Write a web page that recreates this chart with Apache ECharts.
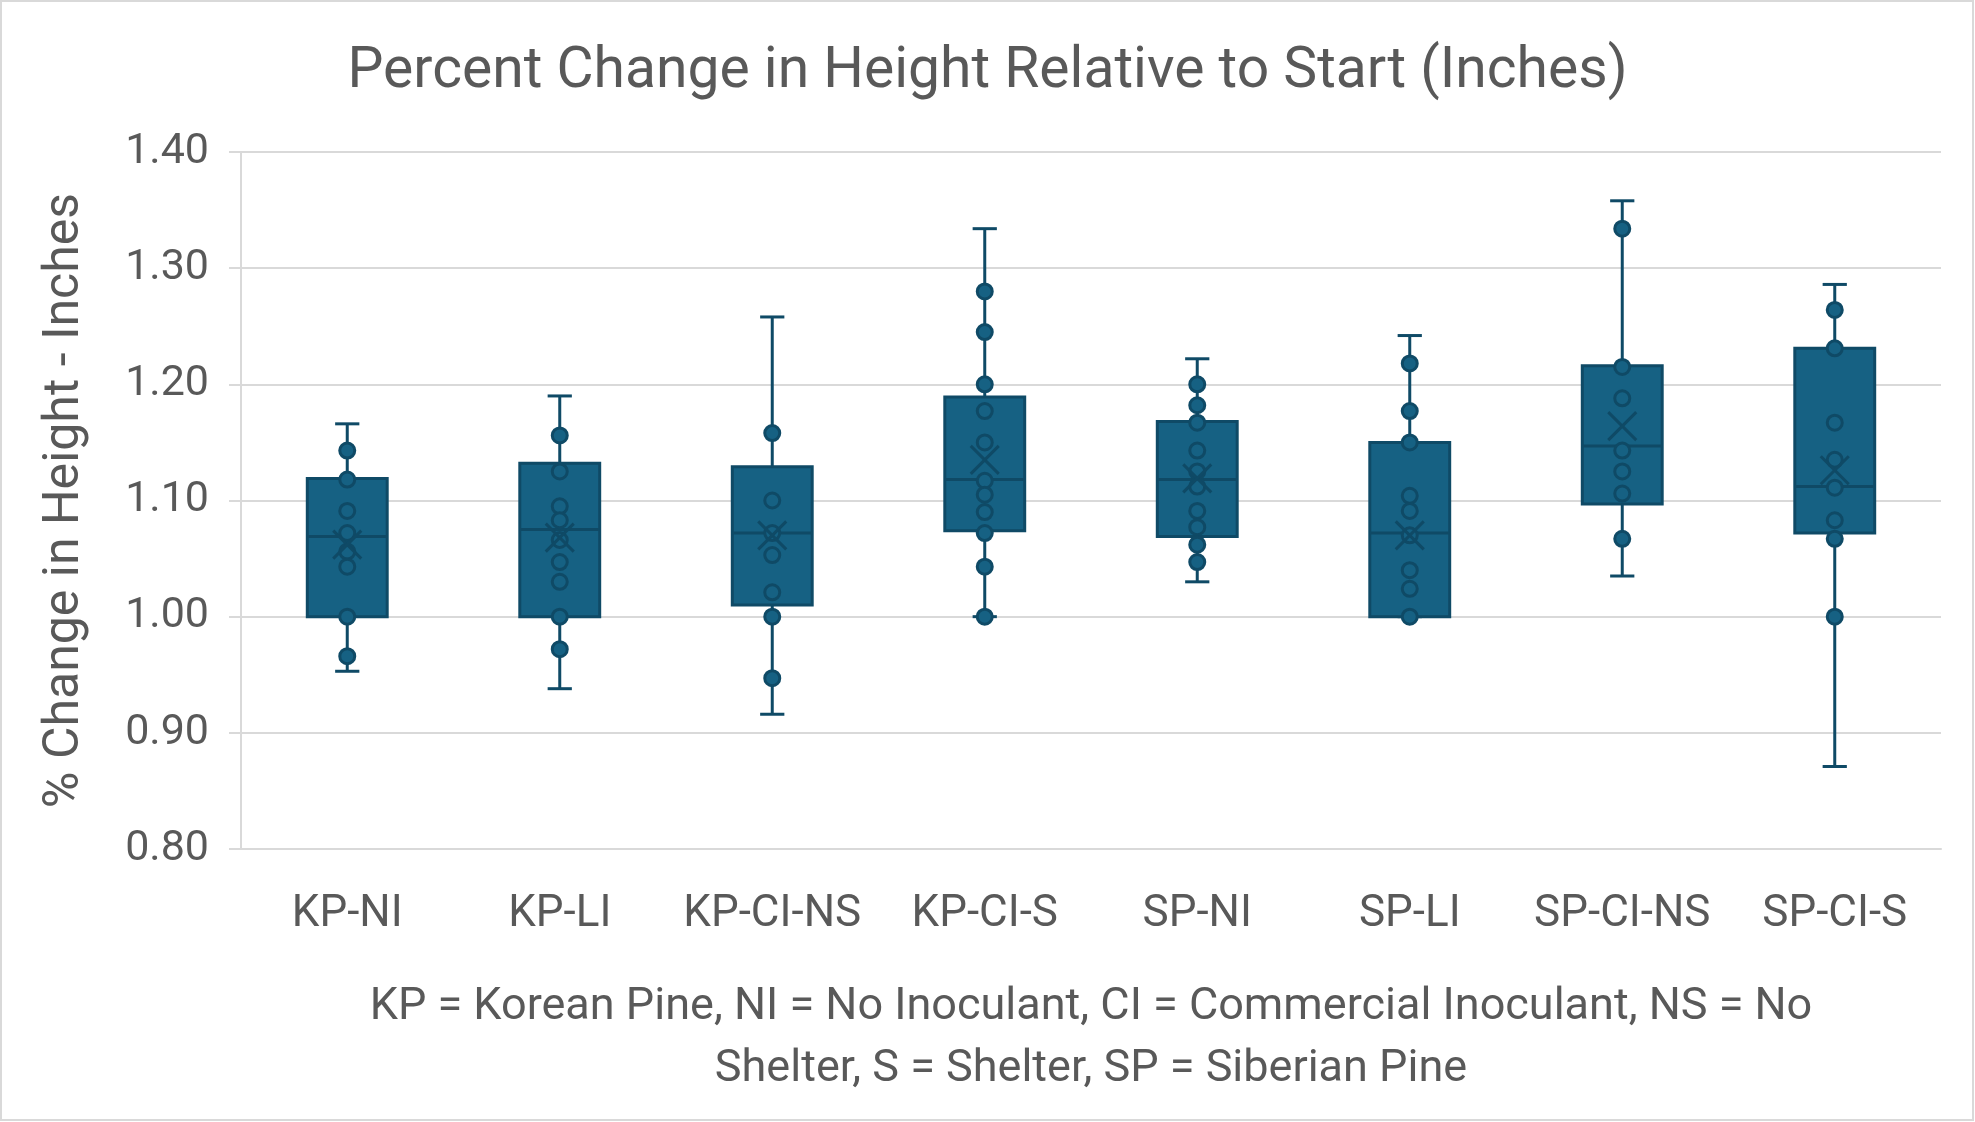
<!DOCTYPE html>
<html>
<head>
<meta charset="utf-8">
<script src="https://cdn.jsdelivr.net/npm/echarts@6/dist/echarts.min.js"></script>
<style>
html,body{margin:0;padding:0;background:#fff;}
#chart{width:1975px;height:1122px;}
</style>
</head>
<body>
<div id="chart"></div>
<script>
// ---- data ----
const categories = ['KP-NI','KP-LI','KP-CI-NS','KP-CI-S','SP-NI','SP-LI','SP-CI-NS','SP-CI-S'];
const whiskerMin = [0.953, 0.938, 0.916, 1.000, 1.030, 1.000, 1.035, 0.871];
const q1         = [1.000, 1.000, 1.010, 1.074, 1.069, 1.000, 1.097, 1.072];
const median     = [1.069, 1.075, 1.072, 1.118, 1.118, 1.072, 1.147, 1.112];
const q3         = [1.119, 1.132, 1.129, 1.189, 1.168, 1.150, 1.216, 1.231];
const whiskerMax = [1.166, 1.190, 1.258, 1.334, 1.222, 1.242, 1.358, 1.286];
const means      = [1.062, 1.068, 1.070, 1.135, 1.119, 1.070, 1.164, 1.126];

const ptsKPNI   = [1.143, 1.118, 1.091, 1.072, 1.056, 1.043, 1.000, 0.966];
const ptsKPLI   = [1.156, 1.125, 1.095, 1.083, 1.066, 1.047, 1.030, 1.000, 0.972];
const ptsKPCINS = [1.158, 1.100, 1.072, 1.053, 1.021, 1.000, 0.947];
const ptsKPCIS  = [1.280, 1.245, 1.200, 1.177, 1.150, 1.117, 1.105, 1.090, 1.072, 1.043, 1.000];
const ptsSPNI   = [1.200, 1.182, 1.167, 1.143, 1.125, 1.112, 1.091, 1.077, 1.062, 1.047];
const ptsSPLI   = [1.218, 1.177, 1.150, 1.104, 1.091, 1.070, 1.040, 1.024, 1.000];
const ptsSPCINS = [1.334, 1.215, 1.188, 1.143, 1.125, 1.106, 1.067];
const ptsSPCIS  = [1.264, 1.231, 1.167, 1.135, 1.111, 1.083, 1.067, 1.000];

const yTicks = [0.80, 0.90, 1.00, 1.10, 1.20, 1.30, 1.40];

const titleText = 'Percent Change in Height Relative to Start (Inches)';
const yAxisTitle = '% Change in Height - Inches';
const footnote = 'KP = Korean Pine, NI = No Inoculant, CI = Commercial Inoculant, NS = No\nShelter, S = Shelter, SP = Siberian Pine';

// ---- build series data ----
const pointSets = [ptsKPNI, ptsKPLI, ptsKPCINS, ptsKPCIS, ptsSPNI, ptsSPLI, ptsSPCINS, ptsSPCIS];
const boxData = categories.map((c, i) => [i, whiskerMin[i], q1[i], median[i], q3[i], whiskerMax[i]]);
const pointData = [];
pointSets.forEach((arr, i) => arr.forEach(v => pointData.push([i, v])));
const meanData = means.map((m, i) => [i, m]);

const FILL = '#166183';
const DARK = '#0F4A66';
const TEXT = '#595959';
const GRID = '#D9D9D9';
const FONT = 'Roboto';

const chart = echarts.init(document.getElementById('chart'), null, {renderer: 'canvas'});

chart.setOption({
  animation: false,
  backgroundColor: '#fff',
  title: {
    text: titleText,
    left: 'center',
    top: 39,
    textStyle: {fontFamily: FONT, fontSize: 57, fontWeight: 'normal', color: TEXT, lineHeight: 57}
  },
  graphic: [{
    type: 'rect',
    shape: {x: 1, y: 1, width: 1972, height: 1119},
    style: {fill: 'none', stroke: GRID, lineWidth: 2},
    silent: true, z: -1
  }],
  grid: {left: 241, right: 34, top: 152, bottom: 273},
  xAxis: {
    type: 'category',
    data: categories,
    axisLine: {show: true, lineStyle: {color: GRID, width: 2}},
    axisTick: {show: false},
    axisLabel: {fontFamily: FONT, fontSize: 44, color: TEXT, margin: 44, lineHeight: 44, interval: 0},
    name: footnote,
    nameLocation: 'middle',
    nameGap: 128,
    nameTextStyle: {fontFamily: FONT, fontSize: 45, color: TEXT, lineHeight: 62, align: 'center'}
  },
  yAxis: {
    type: 'value',
    min: 0.8, max: 1.4, interval: 0.1,
    axisLine: {show: true, lineStyle: {color: GRID, width: 2}},
    axisTick: {show: true, inside: false, length: 12, lineStyle: {color: GRID, width: 2}},
    splitLine: {show: true, lineStyle: {color: GRID, width: 2}},
    axisLabel: {
      fontFamily: FONT, fontSize: 43, color: TEXT, margin: 32,
      formatter: v => {
        const t = yTicks.find(k => Math.abs(k - v) < 1e-6);
        return (t !== undefined ? t : v).toFixed(2);
      }
    },
    name: yAxisTitle,
    nameLocation: 'middle',
    nameRotate: 90,
    nameGap: 151,
    nameTextStyle: {fontFamily: FONT, fontSize: 50, color: TEXT}
  },
  series: [
    {
      type: 'custom',
      name: 'box',
      z: 2,
      data: boxData,
      encode: {x: 0, y: [1, 2, 3, 4, 5]},
      renderItem: function (params, api) {
        const xi = api.value(0);
        const pMin = api.coord([xi, api.value(1)]);
        const pQ1 = api.coord([xi, api.value(2)]);
        const pMed = api.coord([xi, api.value(3)]);
        const pQ3 = api.coord([xi, api.value(4)]);
        const pMax = api.coord([xi, api.value(5)]);
        const band = api.size([1, 0])[0];
        const hw = band * 0.188;
        const cw = band * 0.057;
        const cx = pMed[0];
        const ls = {stroke: DARK, lineWidth: 3};
        return {
          type: 'group',
          children: [
            {type: 'line', shape: {x1: cx, y1: pQ3[1], x2: cx, y2: pMax[1]}, style: ls},
            {type: 'line', shape: {x1: cx - cw, y1: pMax[1], x2: cx + cw, y2: pMax[1]}, style: ls},
            {type: 'line', shape: {x1: cx, y1: pQ1[1], x2: cx, y2: pMin[1]}, style: ls},
            {type: 'line', shape: {x1: cx - cw, y1: pMin[1], x2: cx + cw, y2: pMin[1]}, style: ls},
            {type: 'rect', shape: {x: cx - hw, y: pQ3[1], width: 2 * hw, height: pQ1[1] - pQ3[1]},
             style: {fill: FILL, stroke: DARK, lineWidth: 3}},
            {type: 'line', shape: {x1: cx - hw, y1: pMed[1], x2: cx + hw, y2: pMed[1]}, style: ls}
          ]
        };
      }
    },
    {
      type: 'scatter',
      name: 'points',
      z: 3,
      data: pointData,
      symbol: 'circle',
      symbolSize: 15,
      itemStyle: {color: FILL, borderColor: DARK, borderWidth: 3, opacity: 1}
    },
    {
      type: 'custom',
      name: 'mean',
      z: 4,
      data: meanData,
      encode: {x: 0, y: 1},
      renderItem: function (params, api) {
        const p = api.coord([api.value(0), api.value(1)]);
        const s = 14;
        const ls = {stroke: DARK, lineWidth: 3};
        return {
          type: 'group',
          children: [
            {type: 'line', shape: {x1: p[0] - s, y1: p[1] - s, x2: p[0] + s, y2: p[1] + s}, style: ls},
            {type: 'line', shape: {x1: p[0] - s, y1: p[1] + s, x2: p[0] + s, y2: p[1] - s}, style: ls}
          ]
        };
      }
    }
  ]
});
</script>
</body>
</html>
